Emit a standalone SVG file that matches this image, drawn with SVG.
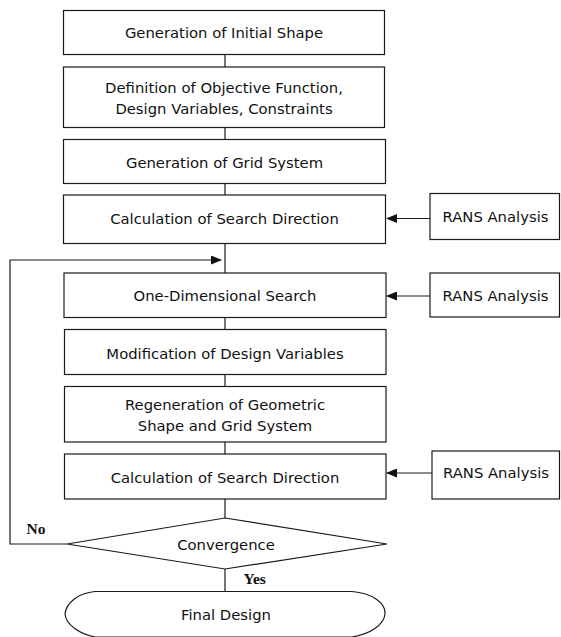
<svg xmlns="http://www.w3.org/2000/svg" width="561" height="637" viewBox="0 0 561 637">
<defs>
<marker id="ah" markerWidth="11" markerHeight="9" refX="10" refY="4.5" orient="auto" markerUnits="userSpaceOnUse">
<path d="M0,0 L11,4.5 L0,9 Z" fill="#111"/>
</marker>
<style>
.box{fill:#fff;stroke:#1a1a1a;stroke-width:1.2}
.ln{fill:none;stroke:#1a1a1a;stroke-width:1.2}
.t{font-family:"DejaVu Sans","Liberation Sans",sans-serif;font-size:14.8px;fill:#111;text-anchor:middle}
.s{font-family:"Liberation Serif","Times New Roman",serif;font-size:15.5px;font-weight:bold;fill:#111}
</style>
</defs>
<rect width="561" height="637" fill="#fff"/>
<g id="connectors">
<line class="ln" x1="225" y1="54.5" x2="225" y2="67"/>
<line class="ln" x1="225" y1="127.5" x2="225" y2="139.5"/>
<line class="ln" x1="225" y1="183.5" x2="225" y2="195"/>
<line class="ln" x1="225" y1="243.5" x2="225" y2="273"/>
<line class="ln" x1="225" y1="317.5" x2="225" y2="329.5"/>
<line class="ln" x1="225" y1="374.5" x2="225" y2="386.5"/>
<line class="ln" x1="225" y1="442" x2="225" y2="454"/>
<line class="ln" x1="225" y1="499" x2="225" y2="518"/>
<line class="ln" x1="225" y1="569" x2="225" y2="591"/>
<polyline class="ln" points="67,544 10,544 10,260 221,260" marker-end="url(#ah)"/>
<line class="ln" x1="430" y1="218.5" x2="387" y2="218.5" marker-end="url(#ah)"/>
<line class="ln" x1="430" y1="296" x2="387" y2="296" marker-end="url(#ah)"/>
<line class="ln" x1="432" y1="473" x2="387" y2="473" marker-end="url(#ah)"/>
</g>
<g id="n1"><rect class="box" x="63.5" y="10.5" width="321" height="44"/><text class="t" x="224" y="38">Generation of Initial Shape</text></g>
<g id="n2"><rect class="box" x="63.5" y="67" width="321" height="60.5"/><text class="t" x="224" y="93">Definition of Objective Function,</text><text class="t" x="224" y="114">Design Variables, Constraints</text></g>
<g id="n3"><rect class="box" x="63.5" y="139.5" width="322" height="44"/><text class="t" x="224.5" y="167.5">Generation of Grid System</text></g>
<g id="n4"><rect class="box" x="63.5" y="195" width="322" height="48.5"/><text class="t" x="224.5" y="223.5">Calculation of Search Direction</text></g>
<g id="r1"><rect class="box" x="430" y="193.5" width="129.5" height="46"/><text class="t" x="495.5" y="222">RANS Analysis</text></g>
<g id="n5"><rect class="box" x="64" y="273" width="322" height="44.5"/><text class="t" x="225" y="301">One-Dimensional Search</text></g>
<g id="r2"><rect class="box" x="430" y="273" width="129.5" height="44"/><text class="t" x="495.5" y="300.5">RANS Analysis</text></g>
<g id="n6"><rect class="box" x="64.5" y="329.5" width="321.5" height="45"/><text class="t" x="225" y="358.5">Modification of Design Variables</text></g>
<g id="n7"><rect class="box" x="64.5" y="386.5" width="321.5" height="55.5"/><text class="t" x="225" y="410">Regeneration of Geometric</text><text class="t" x="225" y="431">Shape and Grid System</text></g>
<g id="n8"><rect class="box" x="64.5" y="454" width="321.5" height="45"/><text class="t" x="225" y="482.5">Calculation of Search Direction</text></g>
<g id="r3"><rect class="box" x="432" y="451" width="127.5" height="48"/><text class="t" x="496" y="478">RANS Analysis</text></g>
<g id="d1"><polygon class="box" points="225,518 387,544 225,569 67,544"/><text class="t" x="226" y="549.5">Convergence</text></g>
<text class="s" x="26.5" y="533.5">No</text>
<text class="s" x="243.5" y="583.5">Yes</text>
<g id="end"><path class="box" d="M95,591.5 L352,591.5 C372,593 386,603 385,614 C384,625 370,634 352,637 L95,637 C80,634 66,625 65,614 C66,603 78,593 95,591.5 Z"/><text class="t" x="226" y="619.5">Final Design</text></g>
</svg>
